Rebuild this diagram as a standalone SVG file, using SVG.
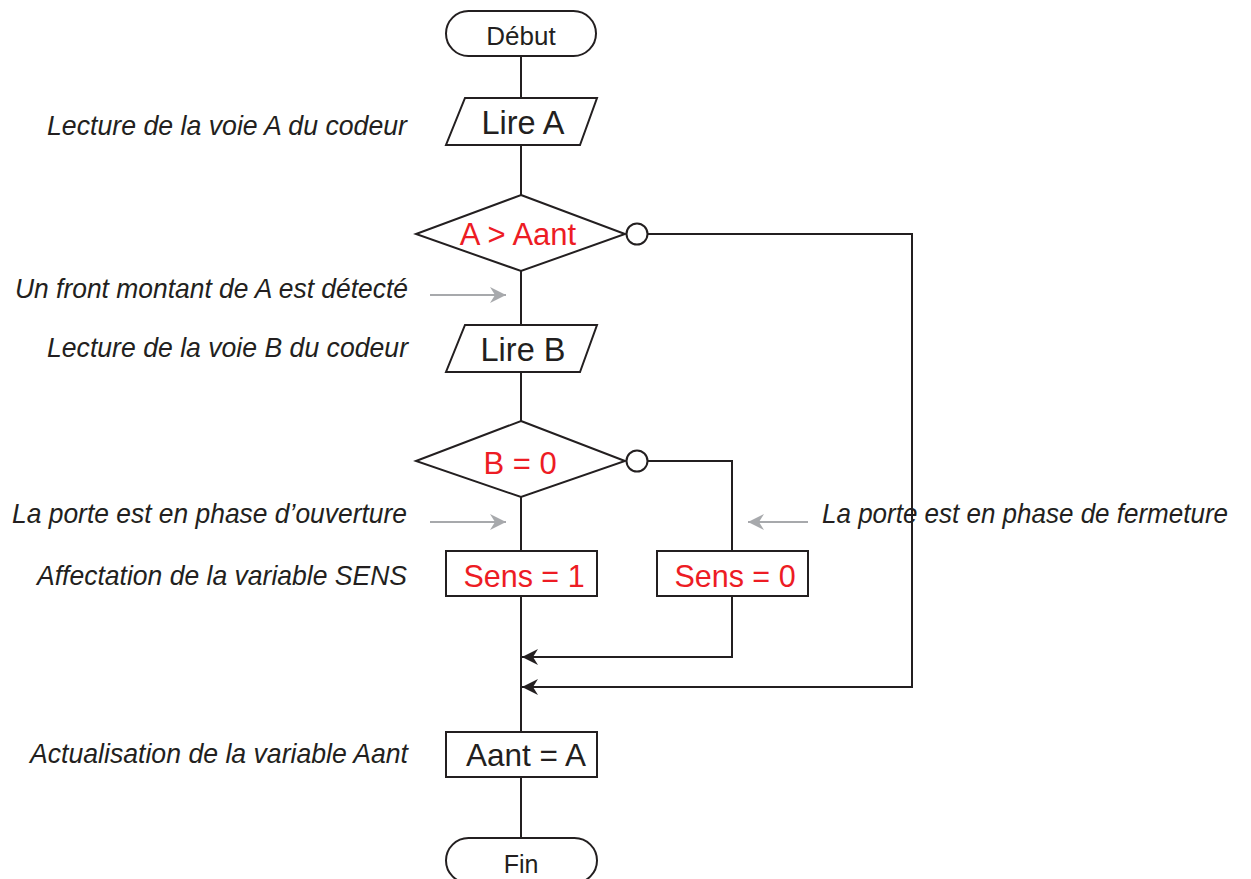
<svg xmlns="http://www.w3.org/2000/svg" width="1251" height="879" viewBox="0 0 1251 879">
  <style>
    .shape { fill: #ffffff; stroke: #231f20; stroke-width: 2; }
    .wire { fill: none; stroke: #231f20; stroke-width: 2; }
    .hint { fill: none; stroke: #a7a9ac; stroke-width: 2.2; }
    text { font-family: Arial, "Liberation Sans", Helvetica, sans-serif; }
    .t { text-anchor: middle; fill: #231f20; }
    .red { fill: #ed1c24; }
    .note { font-style: italic; font-size: 28px; fill: #231f20; }
  </style>
  <defs>
    <marker id="arrow" markerUnits="userSpaceOnUse" markerWidth="20" markerHeight="18" refX="17" refY="9" orient="auto">
      <path d="M17,9 L1,1 L6,9 L1,17 Z" fill="#231f20"/>
    </marker>
    <marker id="grey" markerUnits="userSpaceOnUse" markerWidth="20" markerHeight="18" refX="17" refY="9" orient="auto">
      <path d="M17,9 L1,1 L6,9 L1,17 Z" fill="#a7a9ac"/>
    </marker>
  </defs>

  <rect width="1251" height="879" fill="#ffffff"/>

  <!-- connectors -->
  <g id="connectors">
    <path class="wire" d="M521,56 V98"/>
    <path class="wire" d="M521,145 V195"/>
    <path class="wire" d="M521,271 V325"/>
    <path class="wire" d="M521,372 V421"/>
    <path class="wire" d="M521,497 V551"/>
    <path class="wire" d="M521,596 V732"/>
    <path class="wire" d="M521,777 V838"/>
    <path class="wire" d="M648,234 H912 V687 H522" marker-end="url(#arrow)"/>
    <path class="wire" d="M648,461 H732 V551"/>
    <path class="wire" d="M732,596 V657 H522" marker-end="url(#arrow)"/>
    <!-- annotation pointers -->
    <path class="hint" d="M430,295 H506" marker-end="url(#grey)"/>
    <path class="hint" d="M430,522 H506" marker-end="url(#grey)"/>
    <path class="hint" d="M808,522 H748" marker-end="url(#grey)"/>
  </g>

  <g id="debut">
    <rect class="shape" x="446" y="11" width="150" height="45" rx="22.5"/>
    <text class="t" x="521" y="45" font-size="26">Début</text>
  </g>

  <g id="lire-a">
    <polygon class="shape" points="465,98 597,98 580,145 446,145"/>
    <text class="t" x="523" y="134" font-size="32.5">Lire A</text>
  </g>

  <g id="test-a">
    <polygon class="shape" points="521,195 625,234 521,271 416,234"/>
    <circle class="shape" cx="637" cy="234" r="10.5"/>
    <text class="t red" x="518" y="245" font-size="31">A &gt; Aant</text>
  </g>

  <g id="lire-b">
    <polygon class="shape" points="465,325 597,325 580,372 446,372"/>
    <text class="t" x="523" y="361" font-size="32.5">Lire B</text>
  </g>

  <g id="test-b">
    <polygon class="shape" points="521,421 625,461 521,497 416,461"/>
    <circle class="shape" cx="637" cy="461" r="10.5"/>
    <text class="t red" x="520" y="474" font-size="31">B = 0</text>
  </g>

  <g id="sens-1">
    <rect class="shape" x="446" y="551" width="151" height="45"/>
    <text class="t red" x="524" y="587" font-size="30.5">Sens = 1</text>
  </g>

  <g id="sens-0">
    <rect class="shape" x="657" y="551" width="151" height="45"/>
    <text class="t red" x="735" y="587" font-size="30.5">Sens = 0</text>
  </g>

  <g id="maj-aant">
    <rect class="shape" x="446" y="732" width="151" height="45"/>
    <text class="t" x="526" y="766" font-size="31.5">Aant = A</text>
  </g>

  <g id="fin">
    <rect class="shape" x="446" y="838" width="151" height="45" rx="22.5"/>
    <text class="t" x="521" y="873" font-size="25">Fin</text>
  </g>

  <!-- side notes (slightly condensed italic) -->
  <g id="notes">
    <text class="note" x="47" y="135" textLength="360" lengthAdjust="spacingAndGlyphs">Lecture de la voie A du codeur</text>
    <text class="note" x="15" y="298" textLength="393" lengthAdjust="spacingAndGlyphs">Un front montant de A est détecté</text>
    <text class="note" x="47" y="357" textLength="361" lengthAdjust="spacingAndGlyphs">Lecture de la voie B du codeur</text>
    <text class="note" x="12" y="523" textLength="395" lengthAdjust="spacingAndGlyphs">La porte est en phase d’ouverture</text>
    <text class="note" x="37" y="585" textLength="370" lengthAdjust="spacingAndGlyphs">Affectation de la variable SENS</text>
    <text class="note" x="30" y="763" textLength="378" lengthAdjust="spacingAndGlyphs">Actualisation de la variable Aant</text>
    <text class="note" x="822" y="523" font-size="25" textLength="406" lengthAdjust="spacingAndGlyphs">La porte est en phase de fermeture</text>
  </g>
</svg>
